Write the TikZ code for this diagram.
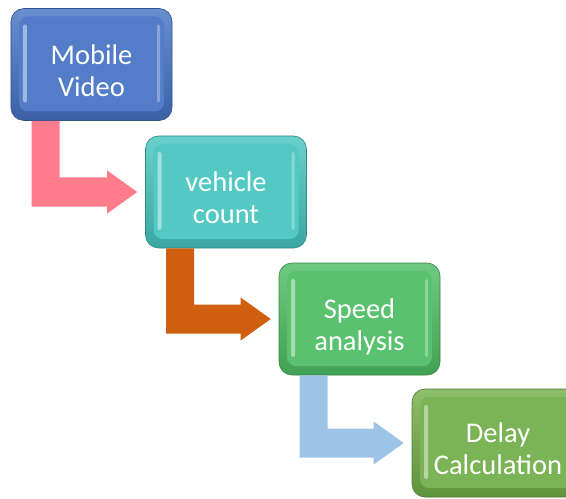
\documentclass[tikz,border=0pt]{standalone}
\usepackage{fontspec}
\setmainfont{Carlito}
\usetikzlibrary{calc}

\definecolor{tileblue}{HTML}{4472C4}
\definecolor{tileteal}{HTML}{45C4BE}
\definecolor{tilegreen}{HTML}{4CBD62}
\definecolor{tileolive}{HTML}{70AD47}
\definecolor{arrowpink}{HTML}{FF7C8C}
\definecolor{arroworange}{HTML}{D0600F}
\definecolor{arrowsky}{HTML}{9DC3E6}

% two-line label, set slightly below the tile centre
\newcommand{\tilelabel}[2]{\smash{\raisebox{-15.5bp}{\begin{tabular}{@{}c@{}}#1\\#2\end{tabular}}}}

\tikzset{
  tile/.style={
    rounded corners=13bp, minimum width=161bp, minimum height=112bp,
    inner sep=0pt, text=white, align=center,
    font=\fontsize{28.5bp}{32bp}\selectfont,
    draw=#1!70!black, line width=0.6bp,
    top color=#1!80!white, bottom color=#1!85!black,
    path picture={
      % raised inner face
      \fill[#1!92!white, rounded corners=9bp]
        ($(path picture bounding box.north west)+(8bp,-8bp)$) rectangle
        ($(path picture bounding box.south east)+(-8bp,9bp)$);
      % glossy vertical highlights on the bevel
      \fill[white, opacity=0.45, rounded corners=2bp]
        ($(path picture bounding box.north west)+(12bp,-16bp)$) rectangle
        ($(path picture bounding box.south west)+(16bp,18bp)$);
      \fill[white, opacity=0.3, rounded corners=2bp]
        ($(path picture bounding box.north east)+(-15bp,-16bp)$) rectangle
        ($(path picture bounding box.south east)+(-12bp,18bp)$);
    }
  },
  bentarrow/.style={fill=#1, draw=none}
}

% L-shaped block arrow from the bottom of one tile to the left side of the next
\newcommand{\bentlink}[3]{%
  \fill[bentarrow=#3]
    let \p1=(#1.south west), \p2=(#2.west) in
    (\x1+21bp,\y1) -- (\x1+49bp,\y1) -- (\x1+49bp,\y2+14.5bp)
    -- (\x2-38bp,\y2+14.5bp) -- (\x2-38bp,\y2+21.5bp) -- (\x2-8bp,\y2)
    -- (\x2-38bp,\y2-21.5bp) -- (\x2-38bp,\y2-14.5bp)
    -- (\x1+21bp,\y2-14.5bp) -- cycle;}

\begin{document}
\begin{tikzpicture}[x=1bp, y=-1bp]
  \path[use as bounding box, clip] (0,0) rectangle (566,499);

  \node[tile=tileblue]  (video)  at (91.5,64.5) {\tilelabel{Mobile}{Video}};
  \node[tile=tileteal]  (count)  at (226,192)   {\tilelabel{vehicle}{count}};
  \node[tile=tilegreen] (speed)  at (359.5,319) {\tilelabel{Speed}{analysis}};
  \node[tile=tileolive, minimum width=172bp, minimum height=108bp]
                        (delay)  at (498,443)   {\tilelabel{Delay}{Calculation}};

  \bentlink{video}{count}{arrowpink}
  \bentlink{count}{speed}{arroworange}
  \bentlink{speed}{delay}{arrowsky}
\end{tikzpicture}
\end{document}
